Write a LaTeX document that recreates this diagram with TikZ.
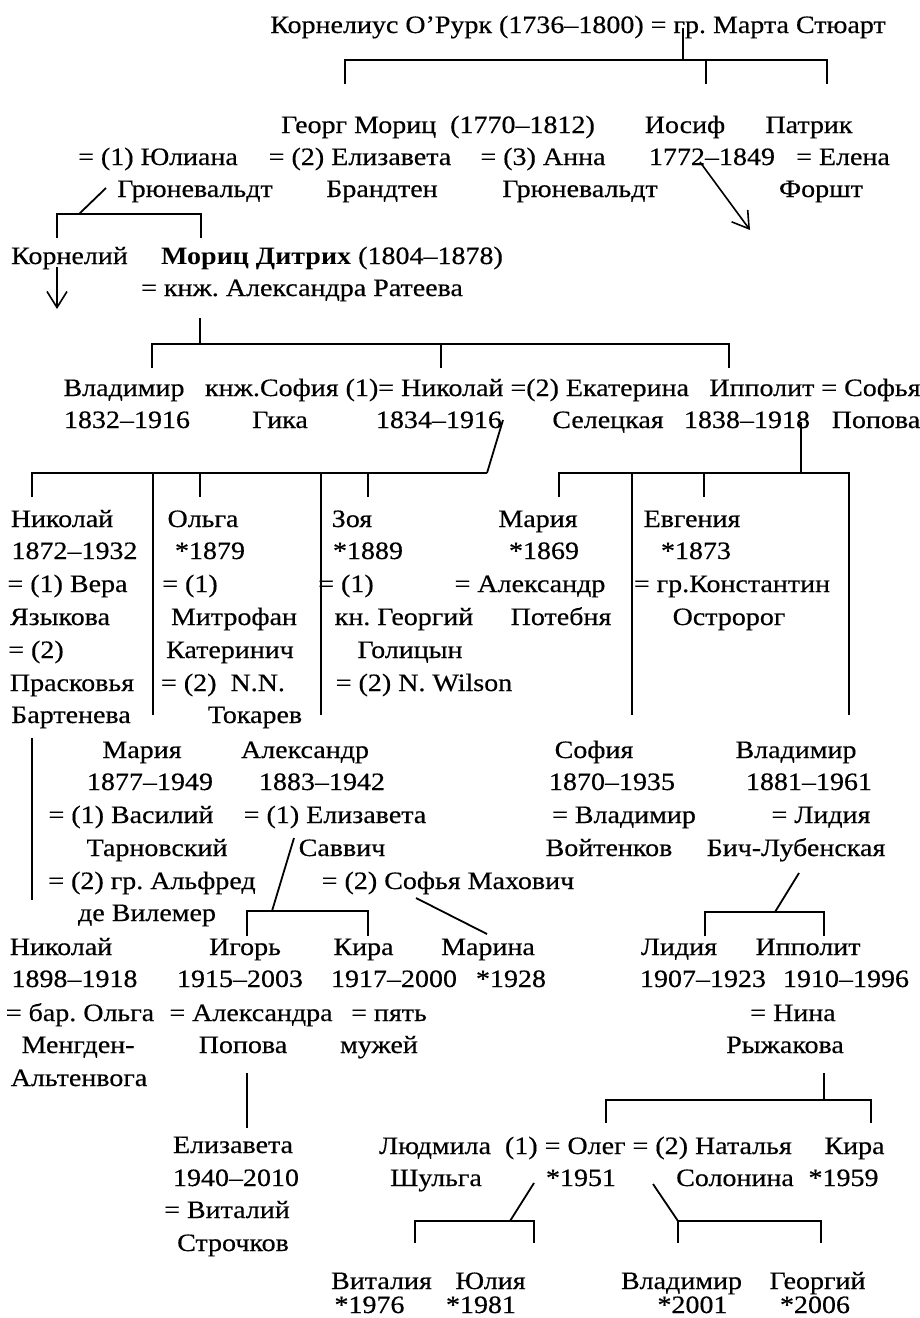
\documentclass[tikz,border=0pt]{standalone}
\usepackage{fontspec}
\setmainfont[FakeStretch=1.12, UprightFeatures={FakeBold=0.4}]{Liberation Serif}
\usetikzlibrary{arrows.meta}
\newcommand{\fs}{\fontsize{25}{29}\selectfont\frenchspacing}
\tikzset{
  t/.style={anchor=base, inner sep=0pt, font=\fs},
  ln/.style={line width=1.8pt},
  arr/.style={line width=1.6pt, -{Straight Barb[length=16pt,width=20pt]}}
}
\begin{document}
\begin{tikzpicture}[x=1pt,y=-1pt]
\useasboundingbox[fill=white] (0,0) rectangle (920,1318);
% ---------- generation 1
\node[t] (r1) at (578,33) {Корнелиус О’Рурк (1736–1800) = гр. Марта Стюарт};
\coordinate (a0) at (683,28); \coordinate (a1) at (683,60);
\coordinate (aL) at (345,60); \coordinate (aR) at (827,60); \coordinate (aM) at (706,60);
\coordinate (aLd) at (345,84); \coordinate (aRd) at (827,84); \coordinate (aMd) at (706,84);
\draw[ln] (a0) -- (a1);
\draw[ln] (aLd) -- (aL) -- (aR) -- (aRd);
\draw[ln] (aM) -- (aMd);
% ---------- generation 2
\node[t] (georg) at (438,133) {Георг Мориц\ \ (1770–1812)};
\node[t] (iosif) at (685,133) {Иосиф};
\node[t] (patrik) at (809,133) {Патрик};
\node[t] (j1) at (158,165) {= (1) Юлиана};
\node[t] (j2) at (360,165) {= (2) Елизавета};
\node[t] (j3) at (543,165) {= (3) Анна};
\node[t] (iosd) at (712,165) {1772–1849};
\node[t] (elena) at (843,165) {= Елена};
\node[t] (g1) at (195,197) {Грюневальдт};
\node[t] (br) at (382,197) {Брандтен};
\node[t] (g3) at (580,197) {Грюневальдт};
\node[t] (forsht) at (821,197) {Форшт};
\coordinate (b0) at (106,188); \coordinate (b1) at (79,214);
\coordinate (bL) at (57,214); \coordinate (bR) at (201,214);
\coordinate (bLd) at (57,238); \coordinate (bRd) at (201,238);
\draw[ln] (b0) -- (b1);
\draw[ln] (bLd) -- (bL) -- (bR) -- (bRd);
\coordinate (c0) at (700,162); \coordinate (c1) at (750,230);
\draw[arr] (c0) -- (c1);
% ---------- generation 3
\node[t] (korn) at (69.5,264) {Корнелий};
\node[t] (moriz) at (332,264) {\textbf{Мориц Дитрих} (1804–1878)};
\node[t] (alex) at (302,296) {= кнж. Александра Ратеева};
\coordinate (k0) at (57,267); \coordinate (k1) at (57,309);
\draw[arr] (k0) -- (k1);
\coordinate (d0) at (200,318); \coordinate (d1) at (200,344);
\coordinate (dL) at (152,344); \coordinate (dR) at (729,344); \coordinate (dM) at (441,344);
\coordinate (dLd) at (152,368); \coordinate (dRd) at (729,368); \coordinate (dMd) at (441,368);
\draw[ln] (d0) -- (d1);
\draw[ln] (dLd) -- (dL) -- (dR) -- (dRd);
\draw[ln] (dM) -- (dMd);
% ---------- generation 4
\node[t] (vlad) at (124,396) {Владимир};
\node[t] (nik) at (447,396) {кнж.София (1)= Николай =(2) Екатерина};
\node[t] (ipp) at (815,396) {Ипполит = Софья};
\node[t] (vd) at (127,428) {1832–1916};
\node[t] (gika) at (280,428) {Гика};
\node[t] (nd) at (439,428) {1834–1916};
\node[t] (sel) at (608,428) {Селецкая};
\node[t] (ipd) at (747,428) {1838–1918};
\node[t] (pop) at (876,428) {Попова};
\coordinate (e0) at (503,420); \coordinate (e1) at (487,473);
\coordinate (eL) at (32,473); \coordinate (eLd) at (32,497);
\coordinate (e2) at (153,473); \coordinate (e2d) at (153,715);
\coordinate (e3) at (200,473); \coordinate (e3d) at (200,497);
\coordinate (e4) at (321,473); \coordinate (e4d) at (321,715);
\coordinate (e5) at (368,473); \coordinate (e5d) at (368,497);
\draw[ln] (e0) -- (e1);
\draw[ln] (eLd) -- (eL) -- (e1);
\draw[ln] (e2) -- (e2d);
\draw[ln] (e3) -- (e3d);
\draw[ln] (e4) -- (e4d);
\draw[ln] (e5) -- (e5d);
\coordinate (f0) at (801,422); \coordinate (f1) at (801,473);
\coordinate (fL) at (559,473); \coordinate (fLd) at (559,497);
\coordinate (fR) at (849,473); \coordinate (fRd) at (849,715);
\coordinate (f2) at (632,473); \coordinate (f2d) at (632,715);
\coordinate (f3) at (704,473); \coordinate (f3d) at (704,497);
\draw[ln] (f0) -- (f1);
\draw[ln] (fLd) -- (fL) -- (fR) -- (fRd);
\draw[ln] (f2) -- (f2d);
\draw[ln] (f3) -- (f3d);
% ---------- generation 5 (upper)
\node[t] (n9a) at (62,527) {Николай};
\node[t] (n9b) at (203,527) {Ольга};
\node[t] (n9c) at (352,527) {Зоя};
\node[t] (n9d) at (538,527) {Мария};
\node[t] (n9e) at (692,527) {Евгения};
\node[t] (n10a) at (74.5,559) {1872–1932};
\node[t] (n10b) at (210,559) {*1879};
\node[t] (n10c) at (368,559) {*1889};
\node[t] (n10d) at (544,559) {*1869};
\node[t] (n10e) at (696,559) {*1873};
\node[t] (n11a) at (67.5,592) {= (1) Вера};
\node[t] (n11b) at (190,592) {= (1)};
\node[t] (n11c) at (346,592) {= (1)};
\node[t] (n11d) at (530,592) {= Александр};
\node[t] (n11e) at (732,592) {= гр.Константин};
\node[t] (n12a) at (60,625) {Языкова};
\node[t] (n12b) at (234,625) {Митрофан};
\node[t] (n12c) at (404,625) {кн. Георгий};
\node[t] (n12d) at (561,625) {Потебня};
\node[t] (n12e) at (729,625) {Остророг};
\node[t] (n13a) at (36,658) {= (2)};
\node[t] (n13b) at (230,658) {Катеринич};
\node[t] (n13c) at (410,658) {Голицын};
\node[t] (n14a) at (72,691) {Прасковья};
\node[t] (n14b) at (223,691) {= (2)\ \ N.N.};
\node[t] (n14c) at (424,691) {= (2) N. Wilson};
\node[t] (n15a) at (71,723) {Бартенева};
\node[t] (n15b) at (255,723) {Токарев};
% ---------- generation 5 (lower)
\coordinate (g0) at (32,738); \coordinate (g1c) at (32,900);
\draw[ln] (g0) -- (g1c);
\node[t] (m16a) at (142,758) {Мария};
\node[t] (m16b) at (305,758) {Александр};
\node[t] (m16c) at (594,758) {София};
\node[t] (m16d) at (796,758) {Владимир};
\node[t] (m17a) at (150,790) {1877–1949};
\node[t] (m17b) at (322,790) {1883–1942};
\node[t] (m17c) at (612,790) {1870–1935};
\node[t] (m17d) at (809,790) {1881–1961};
\node[t] (m18a) at (131,823) {= (1) Василий};
\node[t] (m18b) at (335,823) {= (1) Елизавета};
\node[t] (m18c) at (624,823) {= Владимир};
\node[t] (m18d) at (821,823) {= Лидия};
\node[t] (m19a) at (157,856) {Тарновский};
\node[t] (m19b) at (342,856) {Саввич};
\node[t] (m19c) at (609,856) {Войтенков};
\node[t] (m19d) at (796,856) {Бич-Лубенская};
\node[t] (m20a) at (152,889) {= (2) гр. Альфред};
\node[t] (m20b) at (448,889) {= (2) Софья Махович};
\node[t] (m21a) at (147,921) {де Вилемер};
\coordinate (h0) at (294,838); \coordinate (h1) at (272,911);
\coordinate (hL) at (247,911); \coordinate (hR) at (368,911);
\coordinate (hLd) at (247,936); \coordinate (hRd) at (368,936);
\draw[ln] (h0) -- (h1);
\draw[ln] (hLd) -- (hL) -- (hR) -- (hRd);
\coordinate (i0) at (416,898); \coordinate (i1) at (487,934);
\draw[ln] (i0) -- (i1);
\coordinate (j0) at (799,873); \coordinate (j1c) at (775,912);
\coordinate (jL) at (705,912); \coordinate (jR) at (824,912);
\coordinate (jLd) at (705,936); \coordinate (jRd) at (824,936);
\draw[ln] (j0) -- (j1c);
\draw[ln] (jLd) -- (jL) -- (jR) -- (jRd);
% ---------- generation 6
\node[t] (p22a) at (61,955) {Николай};
\node[t] (p22b) at (245,955) {Игорь};
\node[t] (p22c) at (363.5,955) {Кира};
\node[t] (p22d) at (488,955) {Марина};
\node[t] (p22e) at (679,955) {Лидия};
\node[t] (p22f) at (808,955) {Ипполит};
\node[t] (p23a) at (74.5,987) {1898–1918};
\node[t] (p23b) at (240,987) {1915–2003};
\node[t] (p23c) at (394,987) {1917–2000};
\node[t] (p23d) at (511,987) {*1928};
\node[t] (p23e) at (703,987) {1907–1923};
\node[t] (p23f) at (846,987) {1910–1996};
\node[t] (p24a) at (80,1021) {= бар. Ольга};
\node[t] (p24b) at (251,1021) {= Александра};
\node[t] (p24c) at (389,1021) {= пять};
\node[t] (p24f) at (793,1021) {= Нина};
\node[t] (p25a) at (78,1053) {Менгден-};
\node[t] (p25b) at (243,1053) {Попова};
\node[t] (p25c) at (379,1053) {мужей};
\node[t] (p25f) at (785,1053) {Рыжакова};
\node[t] (p26a) at (79,1086) {Альтенвога};
\coordinate (k2) at (247,1073); \coordinate (k3) at (247,1128);
\draw[ln] (k2) -- (k3);
\coordinate (l0) at (824,1073); \coordinate (l1) at (824,1100);
\coordinate (lL) at (606,1100); \coordinate (lR) at (871,1100);
\coordinate (lLd) at (606,1123); \coordinate (lRd) at (871,1123);
\draw[ln] (l0) -- (l1);
\draw[ln] (lLd) -- (lL) -- (lR) -- (lRd);
% ---------- generation 7
\node[t] (q27a) at (233,1153) {Елизавета};
\node[t] (q28a) at (236,1186) {1940–2010};
\node[t] (q29a) at (227,1218) {= Виталий};
\node[t] (q30a) at (233,1251) {Строчков};
\node[t] (q27b) at (585.5,1154) {Людмила\ \ (1) = Олег = (2) Наталья};
\node[t] (q27c) at (854.5,1154) {Кира};
\node[t] (q28b) at (436,1186) {Шульга};
\node[t] (q28c) at (581,1186) {*1951};
\node[t] (q28d) at (735,1186) {Солонина};
\node[t] (q28e) at (843.5,1186) {*1959};
\coordinate (o0) at (534,1183); \coordinate (o1) at (510,1221);
\coordinate (oL) at (415,1221); \coordinate (oR) at (534,1221);
\coordinate (oLd) at (415,1243); \coordinate (oRd) at (534,1243);
\draw[ln] (o0) -- (o1);
\draw[ln] (oLd) -- (oL) -- (oR) -- (oRd);
\coordinate (s0) at (653,1184); \coordinate (s1) at (678,1221);
\coordinate (sR) at (821,1221);
\coordinate (s1d) at (678,1243); \coordinate (sRd) at (821,1243);
\draw[ln] (s0) -- (s1);
\draw[ln] (s1d) -- (s1) -- (sR) -- (sRd);
% ---------- generation 8
\node[t] (u29a) at (381.5,1289) {Виталия};
\node[t] (u29b) at (490.5,1289) {Юлия};
\node[t] (u29c) at (681.5,1289) {Владимир};
\node[t] (u29d) at (817.5,1289) {Георгий};
\node[t] (u30a) at (369.5,1313) {*1976};
\node[t] (u30b) at (481,1313) {*1981};
\node[t] (u30c) at (692.5,1313) {*2001};
\node[t] (u30d) at (815,1313) {*2006};
\end{tikzpicture}
\end{document}
